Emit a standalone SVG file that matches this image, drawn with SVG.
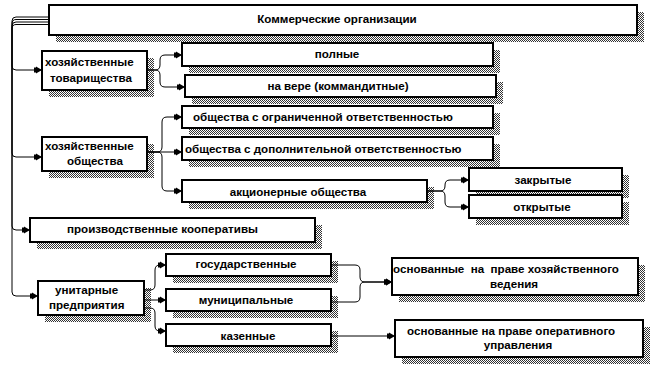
<svg xmlns="http://www.w3.org/2000/svg" width="661" height="388" viewBox="0 0 661 388">
<defs>
<pattern id="hatch" width="2" height="2" patternUnits="userSpaceOnUse">
<rect width="2" height="2" fill="#fff"/>
<rect width="1" height="1" fill="#333"/>
<rect x="1" y="1" width="1" height="1" fill="#333"/>
</pattern>
<marker id="arr" markerUnits="userSpaceOnUse" markerWidth="9" markerHeight="8" refX="8" refY="4" orient="auto">
<path d="M0,1.5 L2,1.5 L2,0.5 L8,4 L2,7.5 L2,6.5 L0,6.5 z" fill="#000"/>
</marker>
</defs>
<style>
.sh{fill:url(#hatch)}
.bx{fill:#fff;stroke:#000;stroke-width:2}
text{font-family:"Liberation Sans",Arial,sans-serif;font-size:11.6px;font-weight:bold;fill:#000;white-space:pre}
.c{text-anchor:middle}
#connectors path{fill:none;stroke:#000;stroke-width:1;marker-end:url(#arr)}
</style>
<rect width="661" height="388" fill="#fff"/>

<g id="n-root"><rect class="sh" x="56" y="12" width="588" height="30"/><rect class="bx" x="49" y="5" width="588" height="30"/><text class="c" x="337" y="23">Коммерческие организации</text></g>

<g id="n-tov"><rect class="sh" x="49" y="58" width="105" height="39"/><rect class="bx" x="42" y="51" width="105" height="39"/><text x="45" y="66">хозяйственные</text><text x="50" y="82">товарищества</text></g>
<g id="n-poln"><rect class="sh" x="189" y="50" width="311" height="23"/><rect class="bx" x="182" y="43" width="311" height="23"/><text class="c" x="337" y="58">полные</text></g>
<g id="n-vere"><rect class="sh" x="192" y="82" width="311" height="22"/><rect class="bx" x="185" y="75" width="311" height="22"/><text class="c" x="338" y="90">на вере (коммандитные)</text></g>

<g id="n-obsh"><rect class="sh" x="49" y="144" width="105" height="34"/><rect class="bx" x="42" y="137" width="105" height="34"/><text x="45" y="150">хозяйственные</text><text x="67" y="165">общества</text></g>
<g id="n-ooo"><rect class="sh" x="189" y="113" width="311" height="22"/><rect class="bx" x="182" y="106" width="311" height="22"/><text x="193" y="121">общества с ограниченной ответственностью</text></g>
<g id="n-odo"><rect class="sh" x="189" y="144" width="311" height="23"/><rect class="bx" x="182" y="137" width="311" height="23"/><text x="185" y="153">общества с дополнительной ответственностью</text></g>
<g id="n-ao"><rect class="sh" x="189" y="187" width="245" height="22"/><rect class="bx" x="182" y="180" width="245" height="22"/><text class="c" x="298" y="196">акционерные общества</text></g>
<g id="n-zak"><rect class="sh" x="476" y="175" width="153" height="23"/><rect class="bx" x="469" y="168" width="153" height="23"/><text class="c" x="543" y="184">закрытые</text></g>
<g id="n-otk"><rect class="sh" x="476" y="202" width="153" height="23"/><rect class="bx" x="469" y="195" width="153" height="23"/><text class="c" x="542" y="211">открытые</text></g>

<g id="n-koop"><rect class="sh" x="37" y="225" width="285" height="24"/><rect class="bx" x="30" y="218" width="285" height="24"/><text x="67" y="233">производственные кооперативы</text></g>

<g id="n-unit"><rect class="sh" x="45" y="288" width="106" height="34"/><rect class="bx" x="38" y="281" width="106" height="34"/><text x="55" y="294">унитарные</text><text x="49" y="309">предприятия</text></g>
<g id="n-gos"><rect class="sh" x="173" y="261" width="165" height="22"/><rect class="bx" x="166" y="254" width="165" height="22"/><text class="c" x="246" y="268">государственные</text></g>
<g id="n-mun"><rect class="sh" x="173" y="296" width="165" height="22"/><rect class="bx" x="166" y="289" width="165" height="22"/><text class="c" x="246" y="304">муниципальные</text></g>
<g id="n-kaz"><rect class="sh" x="173" y="331" width="165" height="22"/><rect class="bx" x="166" y="324" width="165" height="22"/><text class="c" x="248" y="340">казенные</text></g>
<g id="n-hoz"><rect class="sh" x="399" y="265" width="246" height="37"/><rect class="bx" x="392" y="258" width="246" height="37"/><text x="393" y="273" xml:space="preserve">основанные  на  праве хозяйственного</text><text class="c" x="514" y="288">ведения</text></g>
<g id="n-oper"><rect class="sh" x="402" y="327" width="248" height="37"/><rect class="bx" x="395" y="320" width="248" height="37"/><text x="407" y="335">основанные на праве оперативного</text><text class="c" x="518" y="349">управления</text></g>

<g id="connectors">
<path d="M49,17 H16 Q12,17 12,21 V66 Q12,70 16,70 H42"/>
<path d="M49,19.5 H16 Q12,19.5 12,24 V153 Q12,157 16,157 H42"/>
<path d="M49,22 H16 Q12,22 12,26 V226 Q12,230 16,230 H30"/>
<path d="M49,24.5 H16 Q12,24.5 12,29 V292 Q12,296 16,296 H38"/>
<path d="M147,70 H155 Q160,70 160,65 V60 Q160,55 165,55 H182"/>
<path d="M147,70 H155 Q160,70 160,75 V82 Q160,87 165,87 H185"/>
<path d="M147,152 H157 Q162,152 162,147 V122 Q162,117 167,117 H182"/>
<path d="M147,152 H182"/>
<path d="M147,152 H157 Q162,152 162,157 V186 Q162,191 167,191 H182"/>
<path d="M427,191 H440 Q445,191 445,186 V185 Q445,180 450,180 H469"/>
<path d="M427,191 H440 Q445,191 445,196 V202 Q445,207 450,207 H469"/>
<path d="M144,290 H150 Q155,290 155,285 V270 Q155,265 160,265 H166"/>
<path d="M144,300 H166"/>
<path d="M144,308 H150 Q155,308 155,313 V326 Q155,331 160,331 H166"/>
<path d="M331,265 H355 Q360,265 360,270 V277 Q360,282 365,282 H392"/>
<path d="M331,302 H355 Q360,302 360,297 V287 Q360,282 365,282 H392"/>
<path d="M331,336 H395"/>
</g>
</svg>
